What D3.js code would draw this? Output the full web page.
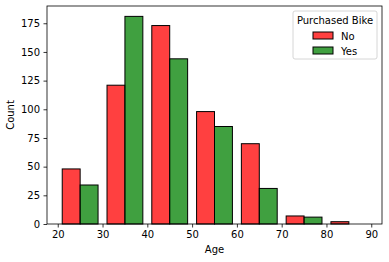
<!DOCTYPE html>
<html>
<head>
<meta charset="utf-8">
<script src="https://cdn.jsdelivr.net/npm/d3@7"></script>
<style>
  body { margin: 0; background: #fff; }
  text { font-family: "DejaVu Sans", sans-serif; }
</style>
</head>
<body>
<div id="chart"></div>
<script>
// bins of width 10 starting at 20
const binStarts = [20, 30, 40, 50, 60, 70, 80];
const countsNo = [48, 121, 173, 98, 70, 7, 2];
const countsYes = [34, 181, 144, 85, 31, 6, 0];
const groups = ["No", "Yes"];
const xTicks = [20, 30, 40, 50, 60, 70, 80, 90];
const yTicks = [0, 25, 50, 75, 100, 125, 150, 175];

const W = 389, H = 262;
const margin = { top: 6, right: 7, bottom: 38, left: 47 };
const width = W - margin.left - margin.right;
const height = H - margin.top - margin.bottom;

const color = d3.scaleOrdinal().domain(groups).range(["rgba(255,0,0,0.75)", "rgba(0,128,0,0.75)"]);

const svg = d3.select("#chart").append("svg")
  .attr("width", W).attr("height", H);
const g = svg.append("g").attr("transform", `translate(${margin.left},${margin.top})`);

const x = d3.scaleLinear().domain([17.6, 92.4]).range([0, width]);
const y = d3.scaleLinear().domain([0, 181 * 1.05]).range([height, 0]);

// bars: each bin shrunk to 0.8, split in two halves
const bars = [];
binStarts.forEach((b, i) => {
  bars.push({ x0: b + 1, x1: b + 5, v: countsNo[i], grp: "No" });
  bars.push({ x0: b + 5, x1: b + 9, v: countsYes[i], grp: "Yes" });
});

g.selectAll("rect.bar")
  .data(bars)
  .enter()
  .append("rect")
  .attr("class", "bar")
  .attr("x", d => x(d.x0))
  .attr("width", d => x(d.x1) - x(d.x0))
  .attr("y", d => y(d.v))
  .attr("height", d => y(0) - y(d.v))
  .attr("fill", d => color(d.grp))
  .attr("stroke", "#000")
  .attr("stroke-width", 1);

// axes
const xAxis = g.append("g")
  .attr("transform", `translate(0,${height})`)
  .call(d3.axisBottom(x).tickValues(xTicks).tickSize(3.5).tickPadding(3.5));
const yAxis = g.append("g")
  .call(d3.axisLeft(y).tickValues(yTicks).tickSize(3.5).tickPadding(3.5));
[xAxis, yAxis].forEach(a => {
  a.select(".domain").remove();
  a.selectAll("text").attr("font-size", 10).attr("fill", "#000")
    .attr("font-family", "DejaVu Sans, sans-serif");
  a.selectAll("line").attr("stroke", "#000").attr("stroke-width", 0.8);
});

// frame
g.append("rect")
  .attr("width", width).attr("height", height)
  .attr("fill", "none").attr("stroke", "#000").attr("stroke-width", 0.8);

// axis labels
svg.append("text")
  .attr("x", margin.left + width / 2).attr("y", 253)
  .attr("text-anchor", "middle").attr("font-size", 10).text("Age");
svg.append("text")
  .attr("transform", `translate(14,${margin.top + height / 2}) rotate(-90)`)
  .attr("text-anchor", "middle").attr("font-size", 10).text("Count");

// legend
const lg = svg.append("g").attr("transform", "translate(293,11)");
lg.append("rect")
  .attr("width", 84).attr("height", 48).attr("rx", 2)
  .attr("fill", "rgba(255,255,255,0.8)").attr("stroke", "#ccc").attr("stroke-width", 0.8);
lg.append("text").attr("x", 42).attr("y", 13).attr("text-anchor", "middle")
  .attr("font-size", 10).text("Purchased Bike");
groups.forEach((grp, i) => {
  const row = lg.append("g").attr("transform", `translate(20,${21 + i * 15})`);
  row.append("rect").attr("width", 20).attr("height", 7)
    .attr("fill", color(grp)).attr("stroke", "#000").attr("stroke-width", 1);
  row.append("text").attr("x", 28).attr("y", 7.5).attr("font-size", 10).text(grp);
});
</script>
</body>
</html>
